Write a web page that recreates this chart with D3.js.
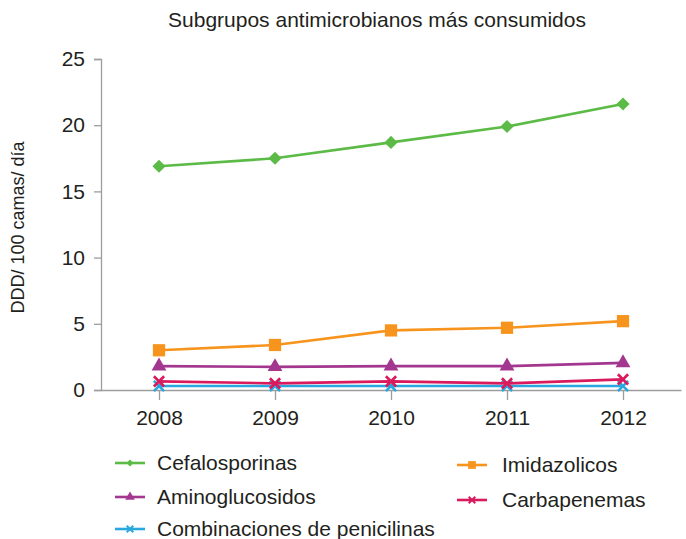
<!DOCTYPE html>
<html>
<head>
<meta charset="utf-8">
<script src="https://cdn.jsdelivr.net/npm/d3@7"></script>
<style>
  body { margin: 0; background: #fff; }
  text { font-family: "Liberation Sans", Arial, sans-serif; fill: #231f20; }
</style>
</head>
<body>
<div id="chart"></div>
<script>
// data
var years = ["2008", "2009", "2010", "2011", "2012"];
var cefalosporinas = [16.9, 17.5, 18.7, 19.9, 21.6];
var imidazolicos = [3.0, 3.4, 4.5, 4.7, 5.2];
var aminoglucosidos = [1.8, 1.75, 1.8, 1.8, 2.05];
var carbapenemas = [0.65, 0.5, 0.65, 0.5, 0.8];
var combinaciones = [0.3, 0.3, 0.3, 0.3, 0.3];
var yTicks = [0, 5, 10, 15, 20, 25];

var series = [
  {name: "Cefalosporinas", values: cefalosporinas, color: "#5bbb46", symbol: "diamond"},
  {name: "Imidazolicos", values: imidazolicos, color: "#f7941d", symbol: "square"},
  {name: "Aminoglucosidos", values: aminoglucosidos, color: "#a3378f", symbol: "triangle"},
  {name: "Carbapenemas", values: carbapenemas, color: "#d91a5d", symbol: "cross"},
  {name: "Combinaciones de penicilinas", values: combinaciones, color: "#29a8df", symbol: "cross"}
];

// dimensions
var width = 686, height = 539;
var margin = {top: 59, right: 5, bottom: 149, left: 101};
var innerW = width - margin.left - margin.right,
    innerH = height - margin.top - margin.bottom;

var svg = d3.select("#chart").append("svg")
    .attr("width", width)
    .attr("height", height);

var g = svg.append("g")
    .attr("transform", "translate(" + margin.left + "," + margin.top + ")");

var x = d3.scalePoint().domain(years).range([0, innerW]).padding(0.5);
var y = d3.scaleLinear().domain([0, 25]).range([innerH, 0]);

// axes
var xAxis = g.append("g")
    .attr("transform", "translate(0," + innerH + ")")
    .call(d3.axisBottom(x).tickSize(10).tickSizeOuter(0).tickPadding(10));
var yAxis = g.append("g")
    .call(d3.axisLeft(y).tickValues(yTicks).tickSize(7).tickPadding(9));

[xAxis, yAxis].forEach(function(a) {
  a.select(".domain").attr("stroke", "#9d9d9d").attr("stroke-width", 1.3);
  a.selectAll(".tick line").attr("stroke", "#9d9d9d").attr("stroke-width", 1.3);
  a.selectAll(".tick text")
    .style("font-family", "'Liberation Sans', Arial, sans-serif")
    .style("font-size", "21px")
    .attr("fill", "#231f20");
});

function markerPath(sym, size) {
  if (sym === "diamond") return d3.symbol().type(d3.symbolDiamond2).size(size)();
  if (sym === "square") return d3.symbol().type(d3.symbolSquare).size(size)();
  if (sym === "triangle") return d3.symbol().type(d3.symbolTriangle).size(size)();
  return d3.symbol().type(d3.symbolTimes).size(size)();
}
var markerSize = {diamond: 110, square: 150, triangle: 95, cross: 70};

var line = d3.line()
    .x(function(d, i) { return x(years[i]); })
    .y(function(d) { return y(d); });

// draw lines from bottom to top so upper series overlay
series.slice().reverse().forEach(function(s) {
  g.append("path")
    .datum(s.values)
    .attr("fill", "none")
    .attr("stroke", s.color)
    .attr("stroke-width", 2.6)
    .attr("d", line);

  g.selectAll(null)
    .data(s.values)
    .enter()
    .append("path")
    .attr("transform", function(d, i) { return "translate(" + x(years[i]) + "," + y(d) + ")"; })
    .attr("d", markerPath(s.symbol, markerSize[s.symbol]))
    .attr("fill", s.symbol === "cross" ? "none" : s.color)
    .attr("stroke", s.symbol === "cross" ? s.color : "none")
    .attr("stroke-width", 2.6);
});

// title
svg.append("text")
    .attr("x", 377)
    .attr("y", 27)
    .attr("text-anchor", "middle")
    .style("font-size", "21px")
    .text("Subgrupos antimicrobianos más consumidos");

// y label
svg.append("text")
    .attr("transform", "translate(24," + (margin.top + innerH / 2 + 3) + ") rotate(-90)")
    .attr("text-anchor", "middle")
    .style("font-size", "18px")
    .text("DDD/ 100 camas/ día");

// legend
var legendPos = [
  {x: 115, y: 463}, {x: 457, y: 465},
  {x: 115, y: 497}, {x: 457, y: 500},
  {x: 115, y: 529}
];
var legendMarker = {diamond: 30, square: 60, triangle: 40, cross: 30};

series.forEach(function(s, i) {
  var p = legendPos[i];
  var lg = svg.append("g").attr("transform", "translate(" + p.x + "," + p.y + ")");
  lg.append("line")
    .attr("x1", 0).attr("x2", 30)
    .attr("stroke", s.color).attr("stroke-width", 2.6);
  lg.append("path")
    .attr("transform", "translate(15,0)")
    .attr("d", markerPath(s.symbol, legendMarker[s.symbol]))
    .attr("fill", s.symbol === "cross" ? "none" : s.color)
    .attr("stroke", s.symbol === "cross" ? s.color : "none")
    .attr("stroke-width", 2);
  lg.append("text")
    .attr("x", i % 2 === 1 ? 45 : 42)
    .attr("dy", "0.35em")
    .style("font-size", "21px")
    .text(s.name);
});
</script>
</body>
</html>
